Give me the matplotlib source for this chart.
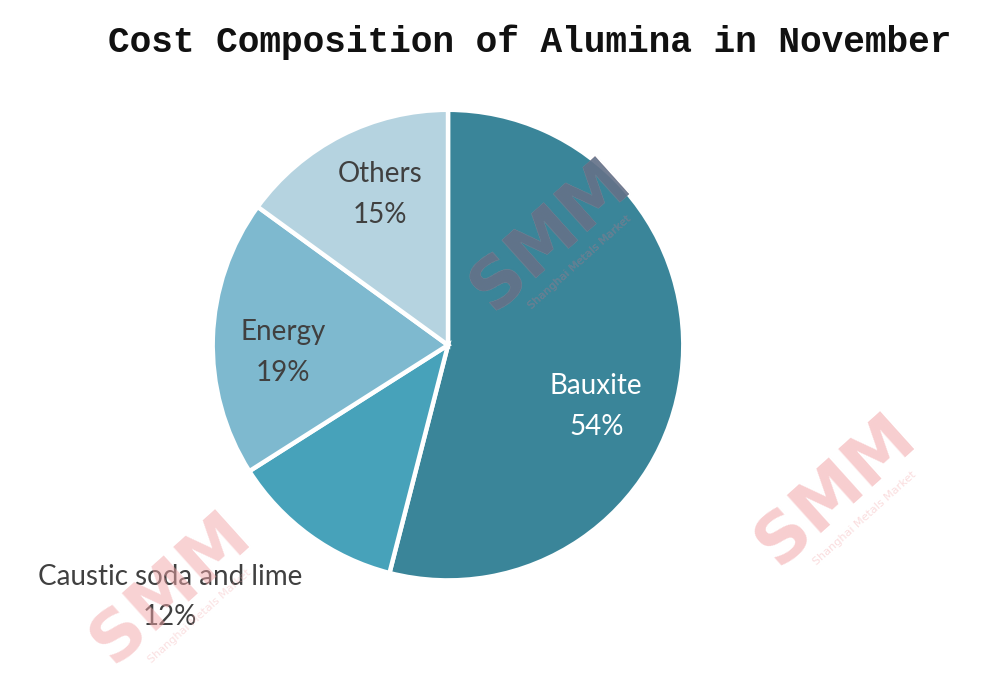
import matplotlib.pyplot as plt

categories = ["Bauxite", "Caustic soda and lime", "Energy", "Others"]
shares = [54, 12, 19, 15]
colors = ["#3A8599", "#47A2BA", "#7EB9CF", "#B5D3E0"]
label_colors = ["white", "#404040", "#404040", "#404040"]
# label anchor in axes data units (pie radius = 1)
label_pos = [(0.63, -0.26), (-1.18, -1.07), (-0.70, -0.03), (-0.29, 0.64)]

fig = plt.figure(figsize=(10, 7), dpi=100)
fig.patch.set_facecolor("white")

fig.text(0.53, 0.94, "Cost Composition of Alumina in November",
         ha="center", va="center", fontsize=26, fontweight="bold",
         family="Liberation Mono", color="#111111")

ax = fig.add_axes([0.208, 0.164, 0.48, 0.686])
wedges, _ = ax.pie(shares, colors=colors, startangle=90, counterclock=False,
                   wedgeprops=dict(edgecolor="white", linewidth=3.2))
ax.set_xlim(-1.02, 1.02)
ax.set_ylim(-1.02, 1.02)
ax.set_aspect("equal")
ax.axis("off")


def watermark(x, y, color, alpha, clip=None):
    t1 = fig.text(x, y, "SMM", rotation=42, ha="center", va="center", fontsize=50,
                  fontweight="bold", family="DejaVu Sans", color=color, alpha=alpha, zorder=3)
    t2 = fig.text(x + 0.03, y - 0.04, "Shanghai Metals Market", rotation=42,
                  ha="center", va="center", fontsize=8, color=color, alpha=alpha * 0.7, zorder=3)
    if clip is not None:
        t1.set_clip_path(clip)
        t2.set_clip_path(clip)


watermark(0.55, 0.665, "#F2A5A8", 0.6)
watermark(0.55, 0.665, "#4E6A84", 0.8, clip=wedges[0])
watermark(0.835, 0.30, "#F2A5A8", 0.55)
watermark(0.17, 0.16, "#F2A5A8", 0.5)

for name, val, (lx, ly), tc in zip(categories, shares, label_pos, label_colors):
    ax.text(lx, ly, f"{name}\n{val}%", ha="center", va="center", fontsize=20,
            family="Lato", color=tc, linespacing=1.7, zorder=5)

fig.savefig("out.png", dpi=100)
